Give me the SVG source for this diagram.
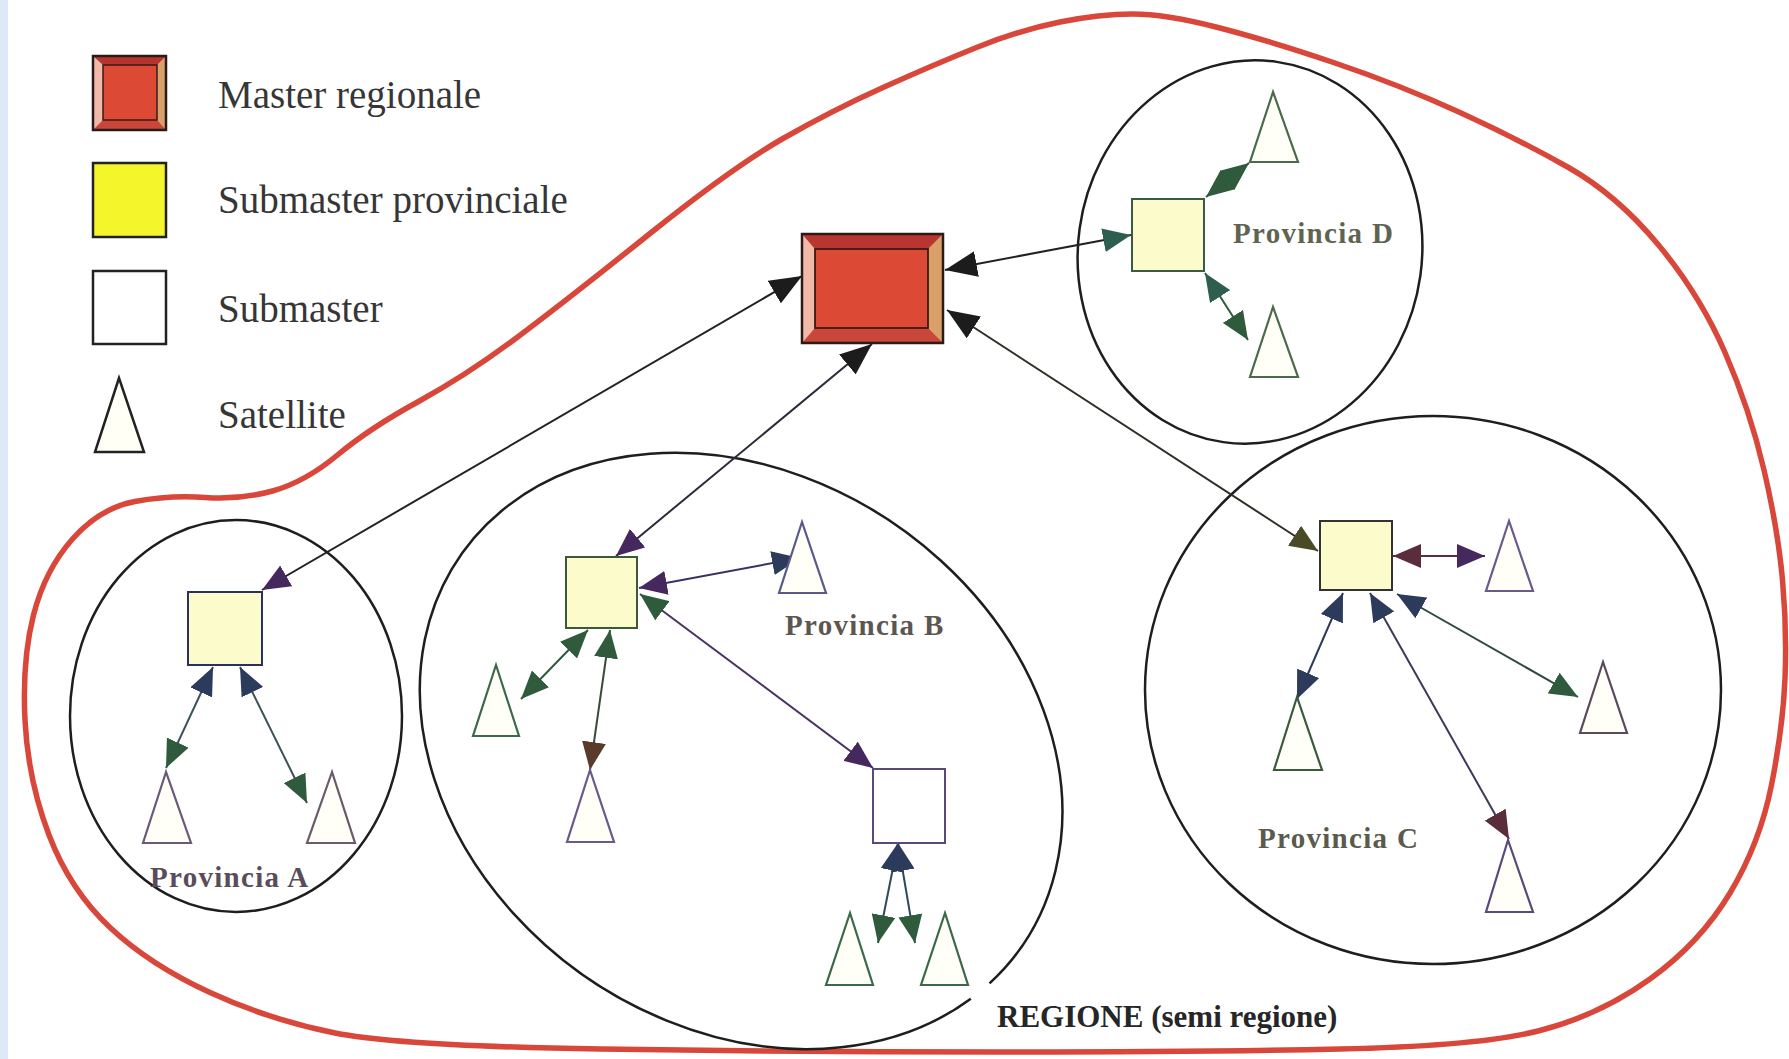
<svg xmlns="http://www.w3.org/2000/svg" width="1789" height="1059" viewBox="0 0 1789 1059">
<style>
.legend{font-family:"Liberation Serif","DejaVu Serif",serif;font-size:39px;fill:#363636}
.prov{font-family:"Liberation Serif","DejaVu Serif",serif;font-size:29px;font-weight:bold;letter-spacing:1.3px}
.reg{font-family:"Liberation Serif","DejaVu Serif",serif;font-size:31px;font-weight:bold;fill:#262626}
.ell{fill:none;stroke:#1e1e1e;stroke-width:2.5}
.sq{fill:#fbfbcc;stroke-width:2}
.sat{fill:#fffff8;stroke-width:2.2}
.c{fill:none;stroke-width:2}
</style>
<defs>
<marker id="mk-black" viewBox="0 0 32 26" refX="32" refY="13" markerWidth="32" markerHeight="26" markerUnits="userSpaceOnUse" orient="auto-start-reverse"><path d="M0,0 L32,13 L0,26 z" fill="#1c1c1c"/></marker>
<marker id="mk-green" viewBox="0 0 28 24" refX="28" refY="12" markerWidth="28" markerHeight="24" markerUnits="userSpaceOnUse" orient="auto-start-reverse"><path d="M0,0 L28,12 L0,24 z" fill="#2f5a3c"/></marker>
<marker id="mk-teal" viewBox="0 0 28 24" refX="28" refY="12" markerWidth="28" markerHeight="24" markerUnits="userSpaceOnUse" orient="auto-start-reverse"><path d="M0,0 L28,12 L0,24 z" fill="#2e5e50"/></marker>
<marker id="mk-navy" viewBox="0 0 28 24" refX="28" refY="12" markerWidth="28" markerHeight="24" markerUnits="userSpaceOnUse" orient="auto-start-reverse"><path d="M0,0 L28,12 L0,24 z" fill="#2c3a5c"/></marker>
<marker id="mk-purple" viewBox="0 0 28 24" refX="28" refY="12" markerWidth="28" markerHeight="24" markerUnits="userSpaceOnUse" orient="auto-start-reverse"><path d="M0,0 L28,12 L0,24 z" fill="#45285e"/></marker>
<marker id="mk-maroon" viewBox="0 0 28 24" refX="28" refY="12" markerWidth="28" markerHeight="24" markerUnits="userSpaceOnUse" orient="auto-start-reverse"><path d="M0,0 L28,12 L0,24 z" fill="#5a2c3c"/></marker>
<marker id="mk-olive" viewBox="0 0 28 24" refX="28" refY="12" markerWidth="28" markerHeight="24" markerUnits="userSpaceOnUse" orient="auto-start-reverse"><path d="M0,0 L28,12 L0,24 z" fill="#4a4a28"/></marker>
<marker id="mk-brown" viewBox="0 0 28 24" refX="28" refY="12" markerWidth="28" markerHeight="24" markerUnits="userSpaceOnUse" orient="auto-start-reverse"><path d="M0,0 L28,12 L0,24 z" fill="#5a3a2a"/></marker>
</defs>
<rect x="0" y="0" width="1789" height="1059" fill="#ffffff"/>
<rect x="0" y="0" width="8" height="1059" fill="#dde9f6"/>

<g id="regione">
<path d="M517,337.5 Q567,300 650,233.5 Q733,167 783,138.5 Q833,110 883,87.5 Q933,65 976.5,47.5 Q1020,30 1060,22 Q1100,14 1132.5,14 Q1165,14 1216,27 Q1267,40 1333.5,62.5 Q1400,85 1460,112.5 Q1520,140 1568.5,167.5 Q1617,195 1658.5,245 Q1700,295 1725,352.5 Q1750,410 1764,470 Q1778,530 1782.5,580 Q1787,630 1785,678.5 Q1783,727 1771.5,785 Q1760,843 1730,893 Q1700,943 1650,979 Q1600,1015 1540,1030.5 Q1480,1046 1340,1049 Q1200,1052 1000,1052 Q800,1052 600,1049 Q400,1046 335,1033 Q270,1020 210,992.5 Q150,965 110,927.5 Q70,890 49,835 Q28,780 25,720 Q22,660 33.5,615 Q45,570 72.5,539 Q100,508 135,501.5 Q170,495 205,497.5 Q240,500 272.5,491 Q305,482 337.5,455 Q370,428 418.5,401.5 Q467,375 517,337.5 Z" fill="none" stroke="#d9463a" stroke-width="5.5"/>
<text class="reg" x="997" y="1027">REGIONE (semi regione)</text>
</g>

<g id="provincia-a">
<ellipse class="ell" cx="236" cy="716" rx="166" ry="196"/>
<text class="prov" x="150" y="887" fill="#5a4c5a">Provincia A</text>
</g>
<g id="provincia-b">
<path class="ell" d="M970.8,998.7 A342,274 35 1 1 989.5,983.3"/>
<text class="prov" x="785" y="635" fill="#5c5650">Provincia B</text>
</g>
<g id="provincia-c">
<ellipse class="ell" cx="1433" cy="690" rx="288" ry="274"/>
<text class="prov" x="1258" y="848" fill="#5a5a4e">Provincia C</text>
</g>
<g id="provincia-d">
<ellipse class="ell" cx="1250" cy="252" rx="172" ry="192" transform="rotate(8 1250 252)"/>
<text class="prov" x="1233" y="243" fill="#5f6450">Provincia D</text>
</g>

<g id="legend">
<g id="legend-master">
<rect x="93" y="56" width="73" height="74" fill="#cf4034"/>
<polygon points="93,56 166,56 157,65 103,65" fill="#b5352e"/>
<polygon points="93,130 166,130 157,120 103,120" fill="#c9463a"/>
<polygon points="93,56 103,65 103,120 93,130" fill="#f2b8a8"/>
<polygon points="166,56 157,65 157,120 166,130" fill="#d9a06a"/>
<rect x="103" y="65" width="54" height="55" fill="#dc4a36" stroke="#3a1a14" stroke-width="1.5"/>
<rect x="93" y="56" width="73" height="74" fill="none" stroke="#2a1a18" stroke-width="2.5"/>
<text class="legend" x="218" y="108">Master regionale</text>
</g>
<g id="legend-submaster-prov">
<rect x="93" y="163" width="73" height="74" fill="#f5f52c" stroke="#222" stroke-width="2.5"/>
<text class="legend" x="218" y="213">Submaster provinciale</text>
</g>
<g id="legend-submaster">
<rect x="93" y="271" width="73" height="73" fill="#ffffff" stroke="#222" stroke-width="2.5"/>
<text class="legend" x="218" y="322">Submaster</text>
</g>
<g id="legend-satellite">
<polygon points="119,378 95,452 144,452" fill="#fffff5" stroke="#222" stroke-width="2.5"/>
<text class="legend" x="218" y="428">Satellite</text>
</g>
</g>

<g id="connectors">
<line class="c" x1="262" y1="590" x2="802" y2="276" stroke="#222" marker-start="url(#mk-purple)" marker-end="url(#mk-black)"/>
<line class="c" x1="616" y1="556" x2="872" y2="344" stroke="#2e2a3a" marker-start="url(#mk-purple)" marker-end="url(#mk-black)"/>
<line class="c" x1="945" y1="270" x2="1131" y2="235" stroke="#222" marker-start="url(#mk-black)" marker-end="url(#mk-teal)"/>
<line class="c" x1="947" y1="310" x2="1318" y2="551" stroke="#2f2f26" marker-start="url(#mk-black)" marker-end="url(#mk-olive)"/>
<line class="c" x1="213" y1="667" x2="166" y2="768" stroke="#3a5258" marker-start="url(#mk-navy)" marker-end="url(#mk-green)"/>
<line class="c" x1="240" y1="667" x2="307" y2="803" stroke="#3a5258" marker-start="url(#mk-navy)" marker-end="url(#mk-green)"/>
<line class="c" x1="639" y1="588" x2="800" y2="558" stroke="#3e2e66" marker-start="url(#mk-purple)" marker-end="url(#mk-navy)"/>
<line class="c" x1="640" y1="594" x2="873" y2="768" stroke="#4a3464" marker-start="url(#mk-green)" marker-end="url(#mk-purple)"/>
<line class="c" x1="588" y1="630" x2="521" y2="699" stroke="#2f5a3c" marker-start="url(#mk-green)" marker-end="url(#mk-green)"/>
<line class="c" x1="610" y1="630" x2="590" y2="770" stroke="#3a4a3a" marker-start="url(#mk-green)" marker-end="url(#mk-brown)"/>
<line class="c" x1="898" y1="843" x2="878" y2="943" stroke="#2c4a5c" marker-start="url(#mk-navy)" marker-end="url(#mk-green)"/>
<line class="c" x1="898" y1="843" x2="915" y2="943" stroke="#2c4a5c" marker-start="url(#mk-navy)" marker-end="url(#mk-green)"/>
<line class="c" x1="1393" y1="556" x2="1485" y2="556" stroke="#5a2c4a" marker-start="url(#mk-maroon)" marker-end="url(#mk-purple)"/>
<line class="c" x1="1397" y1="594" x2="1578" y2="697" stroke="#2f4a3c" marker-start="url(#mk-navy)" marker-end="url(#mk-green)"/>
<line class="c" x1="1343" y1="593" x2="1297" y2="699" stroke="#2c3a5c" marker-start="url(#mk-navy)" marker-end="url(#mk-navy)"/>
<line class="c" x1="1370" y1="593" x2="1509" y2="839" stroke="#3a3a5a" marker-start="url(#mk-navy)" marker-end="url(#mk-maroon)"/>
<line class="c" x1="1206" y1="197" x2="1249" y2="163" stroke="#2f5a3c" marker-start="url(#mk-green)" marker-end="url(#mk-green)"/>
<line class="c" x1="1205" y1="273" x2="1248" y2="340" stroke="#2f5a3c" marker-start="url(#mk-teal)" marker-end="url(#mk-green)"/>
</g>

<g id="master-regionale">
<rect x="802" y="234" width="141" height="109" fill="#cf4034"/>
<polygon points="802,234 943,234 928,249 815,249" fill="#b8362f"/>
<polygon points="802,343 943,343 928,328 815,328" fill="#c9463a"/>
<polygon points="802,234 815,249 815,328 802,343" fill="#f2b8a8"/>
<polygon points="943,234 928,249 928,328 943,343" fill="#d9a06a"/>
<rect x="815" y="249" width="113" height="79" fill="#dc4a36" stroke="#3a1a14" stroke-width="1.8"/>
<rect x="802" y="234" width="141" height="109" fill="none" stroke="#2a1a18" stroke-width="2.5"/>
</g>

<g id="submaster-a"><rect class="sq" x="188" y="592" width="74" height="73" stroke="#2a3060"/></g>
<g id="submaster-b"><rect class="sq" x="566" y="557" width="71" height="71" stroke="#3a5a3a"/></g>
<g id="submaster-c"><rect class="sq" x="1320" y="521" width="72" height="69" stroke="#333333"/></g>
<g id="submaster-d"><rect class="sq" x="1132" y="199" width="72" height="72" stroke="#3a5a45"/></g>
<g id="submaster-b2"><rect x="873" y="769" width="72" height="74" fill="#ffffff" stroke="#5a4a7a" stroke-width="2"/></g>

<g id="sat-a1"><polygon class="sat" points="166,772 143,843 191,843" stroke="#6a5a7a"/></g>
<g id="sat-a2"><polygon class="sat" points="332,772 307,843 355,843" stroke="#6a5a6a"/></g>
<g id="sat-b1"><polygon class="sat" points="802,522 779,593 826,593" stroke="#5a5a8a"/></g>
<g id="sat-b2"><polygon class="sat" points="496,665 473,736 519,736" stroke="#3a6a4a"/></g>
<g id="sat-b3"><polygon class="sat" points="590,770 567,842 614,842" stroke="#6a5a8a"/></g>
<g id="sat-b4"><polygon class="sat" points="850,913 826,985 873,985" stroke="#3a6a4a"/></g>
<g id="sat-b5"><polygon class="sat" points="945,913 921,985 968,985" stroke="#3a6a4a"/></g>
<g id="sat-c1"><polygon class="sat" points="1509,521 1486,591 1533,591" stroke="#6a5a8a"/></g>
<g id="sat-c2"><polygon class="sat" points="1603,662 1580,733 1627,733" stroke="#5a4a5a"/></g>
<g id="sat-c3"><polygon class="sat" points="1297,697 1274,770 1322,770" stroke="#3a5a3a"/></g>
<g id="sat-c4"><polygon class="sat" points="1508,840 1486,912 1533,912" stroke="#5a4a7a"/></g>
<g id="sat-d1"><polygon class="sat" points="1273,92 1250,162 1298,162" stroke="#4a6a4a"/></g>
<g id="sat-d2"><polygon class="sat" points="1273,307 1250,377 1298,377" stroke="#4a6a4a"/></g>
</svg>
